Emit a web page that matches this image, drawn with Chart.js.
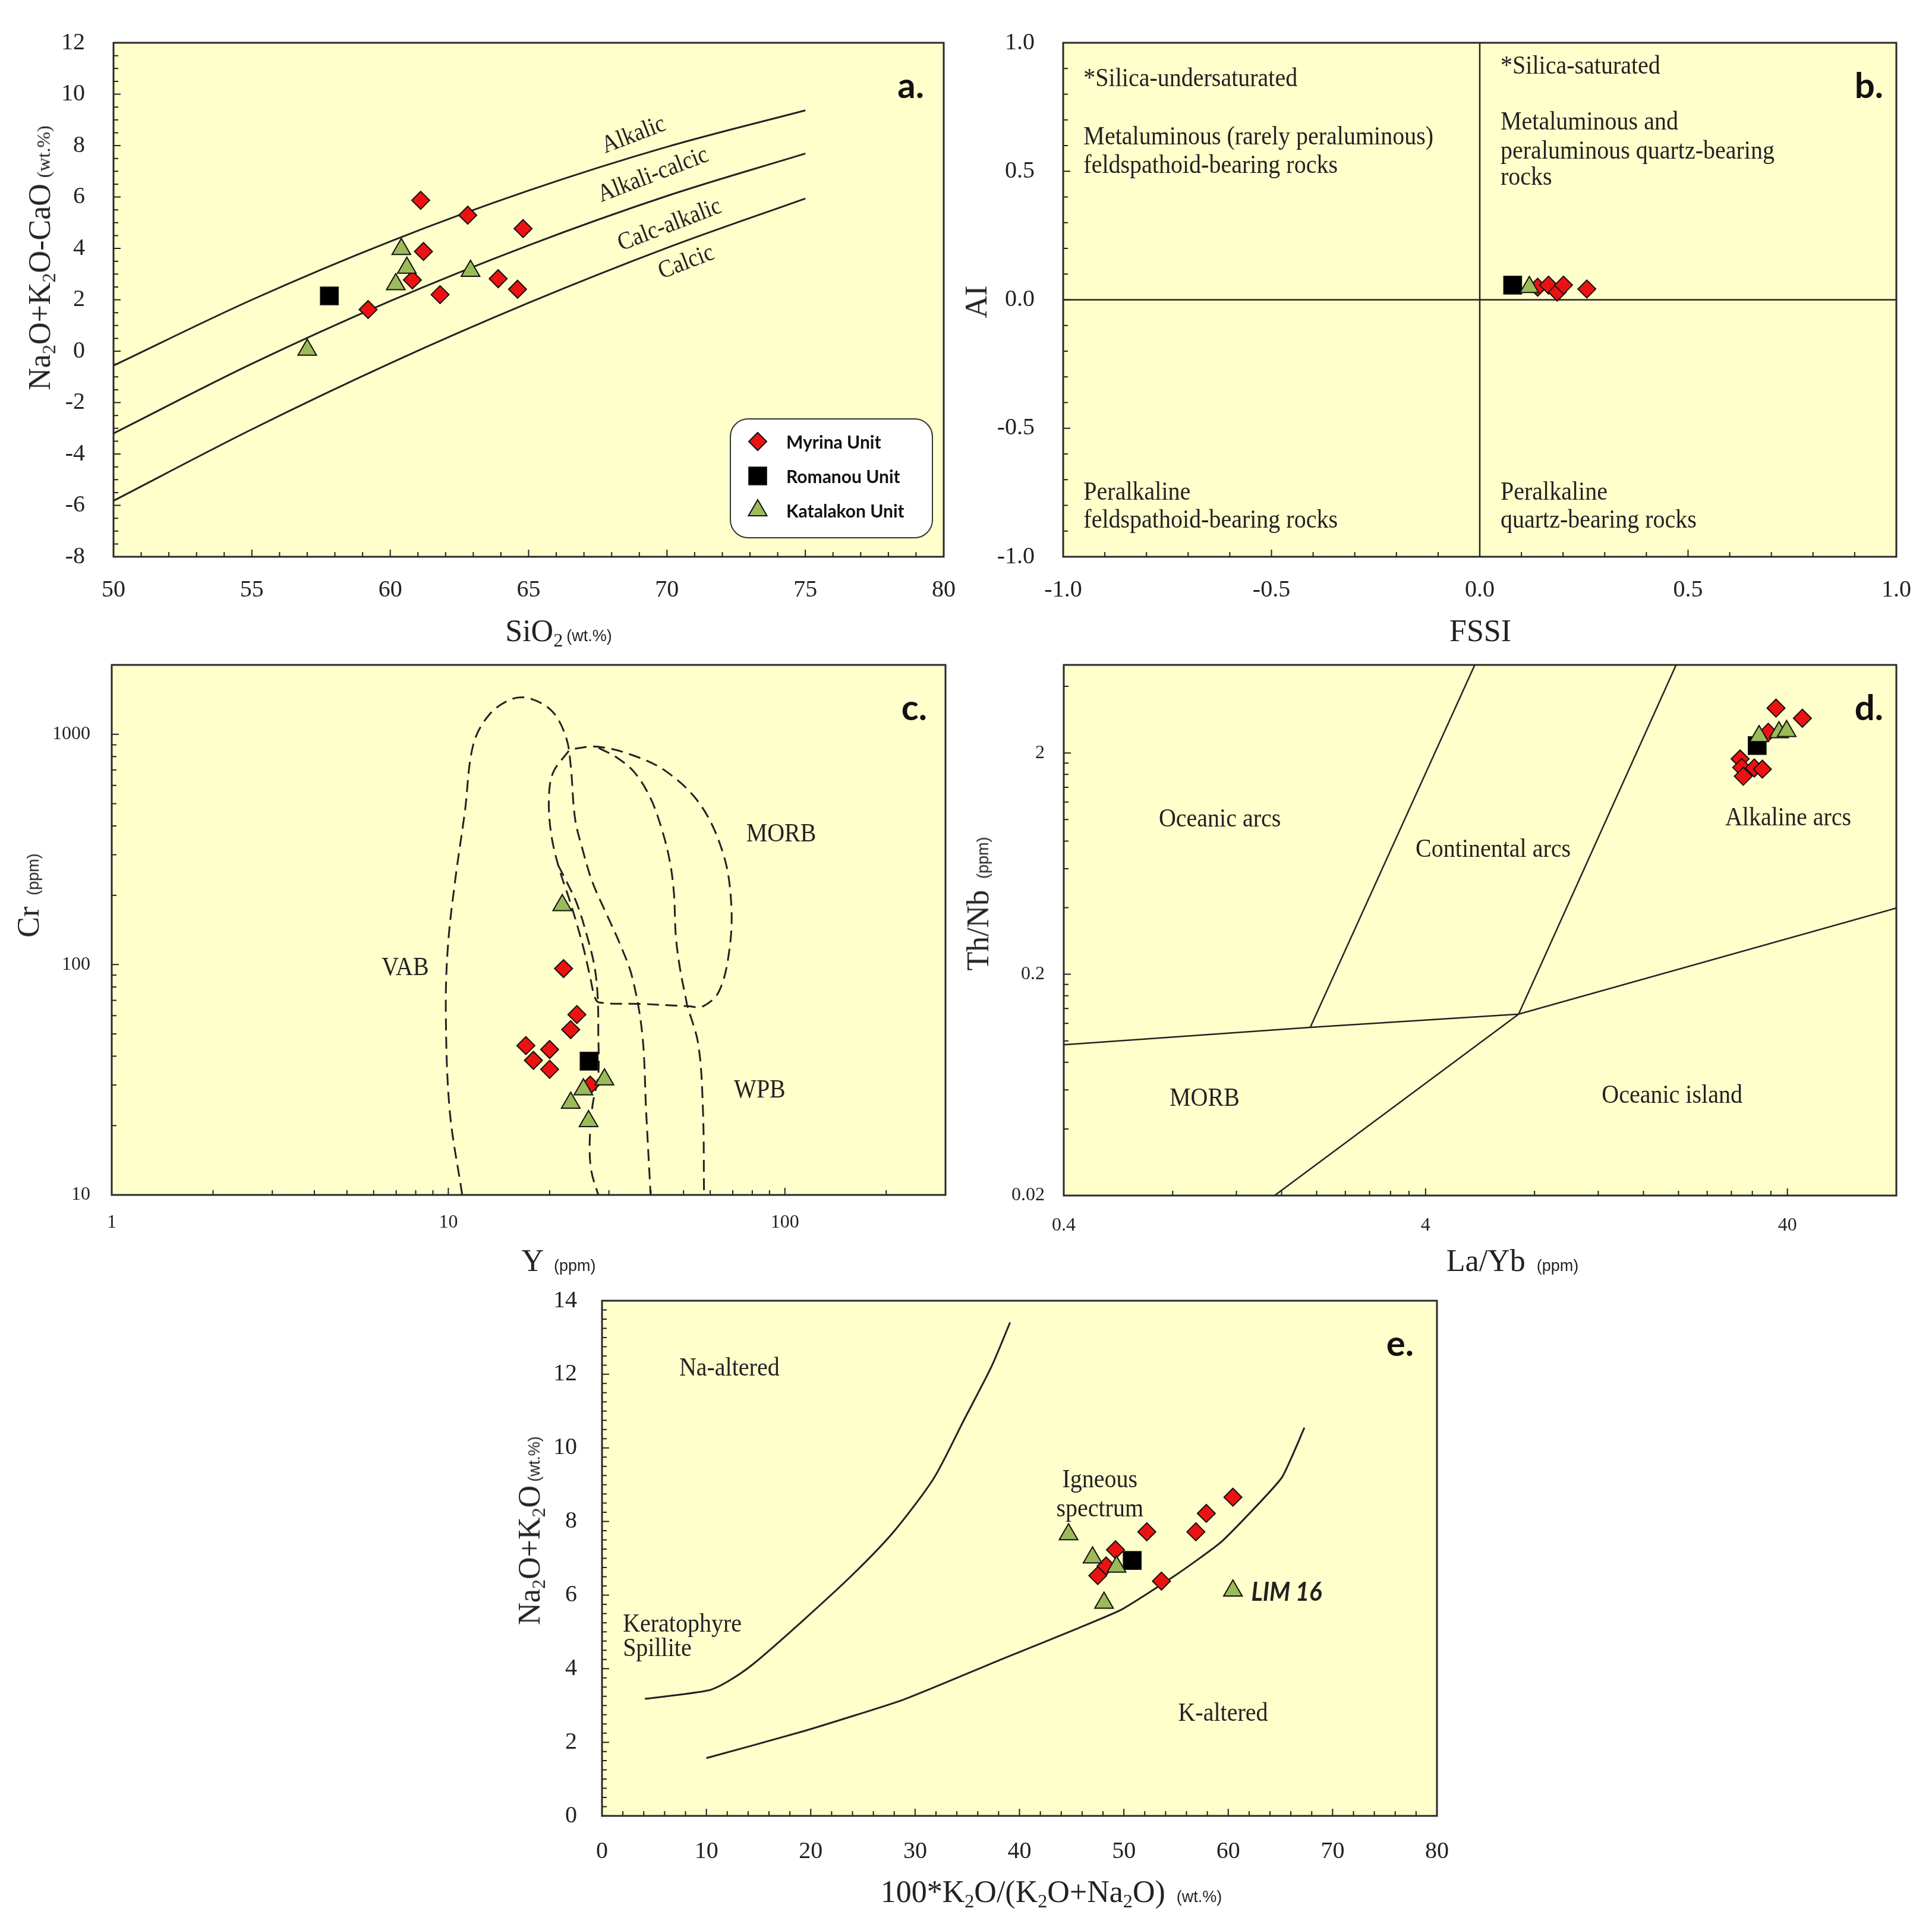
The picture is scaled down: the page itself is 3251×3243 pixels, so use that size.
<!DOCTYPE html>
<html>
<head>
<meta charset="UTF-8">
<title>Myrina, Romanou and Katalakon units - discrimination diagrams</title>
<script src="https://cdn.jsdelivr.net/npm/chart.js"></script>
<style>
  body { margin: 0; background: #ffffff; }
  #page { position: relative; width: 3251px; height: 3243px; overflow: hidden; background: #ffffff; }
  #page canvas { position: absolute; z-index: 1; }
  .ttl { position: absolute; z-index: 2; transform: translate(-50%, -50%); white-space: nowrap; line-height: 1;
         font-family: "Liberation Serif", serif; font-size: 52px; color: #222; }
  .ttl.rot { transform: translate(-50%, -50%) rotate(-90deg); }
  .ttl sub { font-size: 0.62em; vertical-align: -0.28em; line-height: 0; }
  .ttl small { font-family: "Liberation Sans", sans-serif; font-size: 27px; margin-left: 6px; }
  .ttl small.serif { font-family: "Liberation Serif", serif; font-size: 32px; margin-left: 10px; }
</style>
</head>
<body>
<div id="page">
  <!-- axis titles -->
  <div class="ttl" style="left:940px; top:1062px;">SiO<sub>2</sub><small>(wt.%)</small></div>
  <div class="ttl rot" style="left:67px; top:434px;">Na<sub>2</sub>O+K<sub>2</sub>O-CaO<small class="serif">(wt.%)</small></div>
  <div class="ttl" style="left:2491px; top:1062px;">FSSI</div>
  <div class="ttl rot" style="left:1643px; top:508px;">AI</div>
  <div class="ttl" style="left:940px; top:2122px;">Y <small>(ppm)</small></div>
  <div class="ttl rot" style="left:48px; top:1507px;">Cr <small>(ppm)</small></div>
  <div class="ttl" style="left:2545px; top:2122px;">La/Yb <small>(ppm)</small></div>
  <div class="ttl rot" style="left:1646px; top:1521px;">Th/Nb <small>(ppm)</small></div>
  <div class="ttl" style="left:1769px; top:3184px;">100*K<sub>2</sub>O/(K<sub>2</sub>O+Na<sub>2</sub>O) <small>(wt.%)</small></div>
  <div class="ttl rot" style="left:891px; top:2576px;">Na<sub>2</sub>O+K<sub>2</sub>O<small>(wt.%)</small></div>
</div>

<script>
// ---------------- a. Na2O+K2O-CaO vs SiO2
const aXTicks = [50, 55, 60, 65, 70, 75, 80];
const aYTicks = [-8, -6, -4, -2, 0, 2, 4, 6, 8, 10, 12];
const aSiMyrina = [61.1, 62.8, 64.8, 61.2, 60.8, 61.8, 63.9, 64.6, 59.2];
const aMaliMyrina = [5.87, 5.29, 4.77, 3.88, 2.77, 2.20, 2.82, 2.41, 1.62];
const aSiRomanou = [57.8];
const aMaliRomanou = [2.15];
const aSiKatalakon = [60.4, 60.6, 60.2, 62.9, 57.0];
const aMaliKatalakon = [3.97, 3.24, 2.60, 3.12, 0.05];
const aCurveSi = [50, 55, 60, 65, 70, 75];
const aAlkalicLine = [-0.56, 2.00, 4.27, 6.25, 7.95, 9.37];
const aAlkaliCalcicLine = [-3.20, -0.49, 1.95, 4.12, 6.04, 7.69];
const aCalcAlkalicLine = [-5.82, -3.04, -0.47, 1.88, 4.02, 5.94];

// ---------------- b. AI vs FSSI
const bTicks = [-1.0, -0.5, 0.0, 0.5, 1.0];
const bFssiMyrina = [0.139, 0.165, 0.186, 0.201, 0.257];
const bAiMyrina = [0.049, 0.057, 0.030, 0.057, 0.042];
const bFssiRomanou = [0.079];
const bAiRomanou = [0.057];
const bFssiKatalakon = [0.119];
const bAiKatalakon = [0.049];
const bZeroSpan = [-1, 1];
const bZero = [0, 0];

// ---------------- c. Cr vs Y (log-log)
const cXTicks = [1, 10, 100];
const cYTicks = [10, 100, 1000];
const cYMyrina = [22.0, 24.1, 23.1, 17.0, 20.0, 17.9, 20.0, 26.4];
const cCrMyrina = [96.1, 60.7, 52.2, 44.5, 42.8, 38.4, 35.1, 30.0];
const cYRomanou = [26.2];
const cCrRomanou = [38.1];
const cYKatalakon = [21.8, 29.1, 25.2, 23.1, 26.1];
const cCrKatalakon = [181, 31.7, 28.7, 25.1, 20.9];
const cVabY = [11.0, 10.1, 9.83, 9.98, 10.5, 11.2, 11.85, 13.2, 15.4, 17.5, 20.4, 22.4, 23.1, 23.8, 25.1, 26.8, 29.5, 32.5, 35.2, 37.7, 38.7, 39.9];
const cVabCr = [10, 23.1, 62.7, 122, 237, 461, 897, 1211, 1420, 1429, 1253, 965, 731, 430, 313, 228, 166, 121, 88, 49.8, 23.1, 10];
const cMorbY = [22.8, 20.5, 19.9, 20.2, 21.3, 23.1, 25.1, 26.4, 27.2, 28.0, 37.7, 51.4, 57.1, 63.7, 68.3, 69.3, 65.7, 56.2, 44.5, 35.2, 27.9, 23.7, 22.8];
const cMorbCr = [847, 684, 531, 371, 264, 184, 121, 88, 72.6, 68.5, 67.5, 66.0, 65.9, 76.5, 114, 182, 300, 493, 688, 812, 883, 865, 847];
const cWpbRightY = [27.96, 31.6, 35.7, 39.8, 43.1, 45.5, 46.8, 47.4, 48.7, 50.8, 51.2, 55.3, 57.1, 57.5];
const cWpbRightCr = [873, 794, 684, 531, 386, 281, 205, 134, 97.7, 71.1, 67, 45.0, 23.1, 10];
const cWpbLeftY = [21.2, 22.5, 24.1, 25.8, 27.2, 27.8, 27.9, 27.9, 26.8, 26.3, 26.6, 27.9];
const cWpbLeftCr = [270, 228, 184, 134, 97.7, 71.1, 49.8, 33.3, 24.3, 16.6, 12.7, 10];

// ---------------- d. Th/Nb vs La/Yb (log-log)
const dXTicks = [0.4, 4, 40];
const dYTicks = [0.02, 0.2, 2];
const dLaYbMyrina = [37.2, 44.0, 35.4, 29.6, 29.9, 30.2, 32.4, 34.1];
const dThNbMyrina = [3.19, 2.87, 2.48, 1.88, 1.72, 1.57, 1.71, 1.69];
const dLaYbRomanou = [33.0];
const dThNbRomanou = [2.16];
const dLaYbKatalakon = [33.4, 37.9, 39.8];
const dThNbKatalakon = [2.38, 2.48, 2.51];
const dBaseLaYb = [0.4, 1.92, 7.23, 80];
const dBaseThNb = [0.096, 0.115, 0.132, 0.398];
const dOceanicLaYb = [1.92, 5.47];
const dOceanicThNb = [0.115, 5];
const dContLaYb = [7.23, 19.7];
const dContThNb = [0.132, 5];
const dIslandLaYb = [1.53, 7.23];
const dIslandThNb = [0.02, 0.132];

// ---------------- e. Na2O+K2O vs 100*K2O/(K2O+Na2O)
const eXTicks = [0, 10, 20, 30, 40, 50, 60, 70, 80];
const eYTicks = [0, 2, 4, 6, 8, 10, 12, 14];
const eKMyrina = [60.45, 57.9, 56.9, 52.2, 49.2, 48.3, 47.5, 53.6];
const eAlkMyrina = [8.66, 8.22, 7.72, 7.72, 7.23, 6.79, 6.53, 6.38];
const eKRomanou = [50.8];
const eAlkRomanou = [6.94];
const eKKatalakon = [44.7, 47.0, 49.3, 48.1, 60.45];
const eAlkKatalakon = [7.65, 7.02, 6.77, 5.79, 6.12];
const eNaLineK = [4.1, 10.2, 12.15, 14.5, 19.3, 24.1, 28.0, 31.8, 34.7, 37.3, 39.1];
const eNaLineAlk = [3.18, 3.41, 3.67, 4.13, 5.32, 6.58, 7.74, 9.18, 10.77, 12.2, 13.41];
const eKLineK = [10.0, 19.3, 28.9, 38.5, 45.7, 49.8, 54.8, 59.35, 65.1, 67.3];
const eKLineAlk = [1.57, 2.30, 3.16, 4.28, 5.11, 5.61, 6.51, 7.45, 9.18, 10.55];

// ---------------- drawing
const SERIF = "'Liberation Serif', serif";
const INK = '#222222';
const PAPER = '#ffffcc';
Chart.defaults.font.family = SERIF;
const UNITS = ['Myrina Unit', 'Romanou Unit', 'Katalakon Unit'];
const MARK = {
  'Myrina Unit':    { pointStyle: 'rectRot',  radius: 15, fill: '#ee1111', order: 3 },
  'Romanou Unit':   { pointStyle: 'rect',     radius: 21, fill: '#000000', order: 2 },
  'Katalakon Unit': { pointStyle: 'triangle', radius: 18, fill: '#9bbb59', order: 1 }
};

// plot rectangles of each panel on the page
const PANELS = {
  a: { L: 191,  T: 72,   W: 1397, H: 865 },
  b: { L: 1789, T: 72,   W: 1402, H: 865 },
  c: { L: 188,  T: 1119, W: 1403, H: 892 },
  d: { L: 1790, T: 1119, W: 1401, H: 893 },
  e: { L: 1013, T: 2189, W: 1405, H: 867 }
};
// canvas margins round the plot area (big enough for the label overflow padding)
const ML = 140, MT = 80, MR = 100, MB = 110;

function pts(xs, ys) { return xs.map((x, i) => ({ x: x, y: ys[i] })); }

function unit(name, xs, ys) {
  const m = MARK[name];
  return {
    label: name, data: pts(xs, ys), showLine: false,
    pointStyle: m.pointStyle, pointRadius: m.radius, pointHoverRadius: m.radius,
    backgroundColor: m.fill, borderColor: '#111', borderWidth: 2, order: m.order
  };
}

function boundary(xs, ys, extra) {
  return Object.assign({
    data: pts(xs, ys), showLine: true, pointRadius: 0, pointHoverRadius: 0,
    borderColor: INK, borderWidth: 3, backgroundColor: 'transparent', fill: false, order: 9
  }, extra || {});
}

function steps(from, to, step) {
  const out = [];
  for (let v = from; v <= to + 1e-9; v += step) out.push(+v.toFixed(6));
  return out;
}
function logSteps(bases, max) {
  const out = [];
  bases.forEach(b => { for (let k = 1; k <= 9; k++) { const v = +(b * k).toPrecision(6); if (v <= max * 1.0001) out.push(v); } });
  return out;
}

function axis(type, min, max, ticks, fmt, size, pad, fit) {
  return {
    type: type, min: min, max: max,
    grid: { display: false },
    border: { display: false },
    afterBuildTicks: s => { s.ticks = ticks.map(v => ({ value: v })); },
    afterFit: s => { if (s.isHorizontal()) s.height = fit; else s.width = fit; },
    ticks: { callback: fmt, font: { family: SERIF, size: size }, color: INK, padding: pad, maxRotation: 0, autoSkip: false }
  };
}

function drawMarker(ctx, name, x, y) {
  const m = MARK[name];
  ctx.fillStyle = m.fill; ctx.strokeStyle = '#111'; ctx.lineWidth = 2;
  Chart.helpers.drawPoint(ctx, { pointStyle: m.pointStyle, radius: m.radius, rotation: 0, borderWidth: 2 }, x, y);
}

function decor(cfg) {
  const isMajor = (v, list) => list.some(m => Math.abs(m - v) < 1e-9);
  return {
    id: 'decor',
    beforeDatasetsDraw(chart) {
      const { ctx, chartArea: a } = chart;
      ctx.save();
      ctx.fillStyle = PAPER;
      ctx.fillRect(a.left, a.top, a.width, a.height);
      ctx.restore();
    },
    afterDatasetsDraw(chart) {
      const { ctx, chartArea: a, scales } = chart;
      ctx.save();
      // inward tick marks on bottom and left
      ctx.strokeStyle = INK; ctx.lineWidth = 2;
      ctx.beginPath();
      cfg.xMinor.forEach(v => {
        const px = scales.x.getPixelForValue(v), len = isMajor(v, cfg.xMajor) ? 12 : 8;
        ctx.moveTo(px, a.bottom); ctx.lineTo(px, a.bottom - len);
      });
      cfg.yMinor.forEach(v => {
        const py = scales.y.getPixelForValue(v), len = isMajor(v, cfg.yMajor) ? 12 : 8;
        ctx.moveTo(a.left, py); ctx.lineTo(a.left + len, py);
      });
      ctx.stroke();
      // frame
      ctx.lineWidth = 3; ctx.strokeStyle = '#2a2a2a';
      ctx.strokeRect(a.left, a.top, a.width, a.height);
      // field labels
      (cfg.notes || []).forEach(n => {
        ctx.save();
        ctx.font = n.font || ('40px ' + SERIF);
        ctx.fillStyle = INK;
        ctx.textAlign = n.align || 'center';
        ctx.textBaseline = 'middle';
        ctx.translate(scales.x.getPixelForValue(n.x), scales.y.getPixelForValue(n.y));
        if (n.rot) ctx.rotate(n.rot * Math.PI / 180);
        ctx.scale(1, 1.1);
        ctx.fillText(n.text, 0, 0);
        ctx.restore();
      });
      // panel letter
      ctx.font = "bold 60px Lato, 'Open Sans', sans-serif";
      ctx.fillStyle = '#111'; ctx.textAlign = 'right'; ctx.textBaseline = 'alphabetic';
      ctx.fillText(cfg.letter, a.right - cfg.inset, a.top + 93);
      // legend
      if (cfg.legend) {
        const bx = a.right - 359, by = a.bottom - 232, bw = 340, bh = 200;
        ctx.beginPath();
        ctx.roundRect(bx, by, bw, bh, 30);
        ctx.fillStyle = '#ffffff'; ctx.fill();
        ctx.lineWidth = 2; ctx.strokeStyle = '#333'; ctx.stroke();
        UNITS.forEach((name, i) => {
          const ry = by + 38 + i * 58;
          drawMarker(ctx, name, bx + 46, ry);
          ctx.font = "bold 30px Lato, 'Open Sans', sans-serif";
          ctx.fillStyle = '#111'; ctx.textAlign = 'left'; ctx.textBaseline = 'middle';
          ctx.fillText(name, bx + 94, ry + 2);
        });
      }
      ctx.restore();
    }
  };
}

function build(key, xAxis, yAxis, datasets, deco) {
  const p = PANELS[key];
  const cv = document.createElement('canvas');
  cv.width = p.W + ML + MR; cv.height = p.H + MT + MB;
  cv.style.left = (p.L - ML) + 'px'; cv.style.top = (p.T - MT) + 'px';
  document.getElementById('page').appendChild(cv);
  return new Chart(cv.getContext('2d'), {
    type: 'scatter',
    data: { datasets: datasets },
    options: {
      responsive: false, animation: false, events: [],
      layout: { padding: { left: 0, top: MT, right: MR, bottom: 0 } },
      scales: { x: xAxis, y: yAxis },
      plugins: { legend: { display: false }, tooltip: { enabled: false } }
    },
    plugins: [decor(deco)]
  });
}

const str = v => String(v);

// a.
build('a',
  axis('linear', 50, 80, aXTicks, str, 40, 24, MB),
  axis('linear', -8, 12, aYTicks, str, 40, 40, ML),
  [
    unit('Katalakon Unit', aSiKatalakon, aMaliKatalakon),
    unit('Romanou Unit', aSiRomanou, aMaliRomanou),
    unit('Myrina Unit', aSiMyrina, aMaliMyrina),
    boundary(aCurveSi, aAlkalicLine, { cubicInterpolationMode: 'monotone' }),
    boundary(aCurveSi, aAlkaliCalcicLine, { cubicInterpolationMode: 'monotone' }),
    boundary(aCurveSi, aCalcAlkalicLine, { cubicInterpolationMode: 'monotone' })
  ],
  {
    letter: 'a.', inset: 33, legend: true,
    xMajor: aXTicks, xMinor: steps(50, 80, 1),
    yMajor: aYTicks, yMinor: steps(-8, 12, 0.5),
    notes: [
      { text: 'Alkalic', x: 68.8, y: 8.4, rot: -21, font: '38px ' + SERIF },
      { text: 'Alkali-calcic', x: 69.5, y: 6.85, rot: -21, font: '38px ' + SERIF },
      { text: 'Calc-alkalic', x: 70.1, y: 4.9, rot: -21, font: '38px ' + SERIF },
      { text: 'Calcic', x: 70.7, y: 3.45, rot: -21, font: '38px ' + SERIF }
    ]
  });

// b.
build('b',
  axis('linear', -1, 1, bTicks, v => v.toFixed(1), 40, 24, MB),
  axis('linear', -1, 1, bTicks, v => v.toFixed(1), 40, 40, ML),
  [
    unit('Katalakon Unit', bFssiKatalakon, bAiKatalakon),
    unit('Romanou Unit', bFssiRomanou, bAiRomanou),
    unit('Myrina Unit', bFssiMyrina, bAiMyrina),
    boundary(bZero, bZeroSpan, { borderWidth: 2.5 }),
    boundary(bZeroSpan, bZero, { borderWidth: 2.5 })
  ],
  {
    letter: 'b.', inset: 22,
    xMajor: bTicks, xMinor: steps(-1, 1, 0.1),
    yMajor: bTicks, yMinor: steps(-1, 1, 0.1),
    notes: [
      { text: '*Silica-undersaturated', x: -0.951, y: 0.857, align: 'left' },
      { text: 'Metaluminous (rarely peraluminous)', x: -0.951, y: 0.632, align: 'left' },
      { text: 'feldspathoid-bearing rocks', x: -0.951, y: 0.521, align: 'left' },
      { text: '*Silica-saturated', x: 0.05, y: 0.907, align: 'left' },
      { text: 'Metaluminous and', x: 0.05, y: 0.688, align: 'left' },
      { text: 'peraluminous quartz-bearing', x: 0.05, y: 0.575, align: 'left' },
      { text: 'rocks', x: 0.05, y: 0.473, align: 'left' },
      { text: 'Peralkaline', x: -0.951, y: -0.752, align: 'left' },
      { text: 'feldspathoid-bearing rocks', x: -0.951, y: -0.861, align: 'left' },
      { text: 'Peralkaline', x: 0.05, y: -0.752, align: 'left' },
      { text: 'quartz-bearing rocks', x: 0.05, y: -0.861, align: 'left' }
    ]
  });

// c.
const dash = { borderDash: [20, 11], tension: 0.35, borderWidth: 3 };
build('c',
  axis('logarithmic', 1, 300, cXTicks, str, 32, 19, MB),
  axis('logarithmic', 10, 2000, cYTicks, str, 32, 28, ML),
  [
    unit('Katalakon Unit', cYKatalakon, cCrKatalakon),
    unit('Romanou Unit', cYRomanou, cCrRomanou),
    unit('Myrina Unit', cYMyrina, cCrMyrina),
    boundary(cVabY, cVabCr, dash),
    boundary(cMorbY, cMorbCr, dash),
    boundary(cWpbRightY, cWpbRightCr, dash),
    boundary(cWpbLeftY, cWpbLeftCr, dash)
  ],
  {
    letter: 'c.', inset: 31,
    xMajor: cXTicks, xMinor: logSteps([1, 10, 100], 300),
    yMajor: cYTicks, yMinor: logSteps([10, 100, 1000], 2000),
    notes: [
      { text: 'VAB', x: 7.45, y: 96.4 },
      { text: 'MORB', x: 97.5, y: 366 },
      { text: 'WPB', x: 84.2, y: 28.3 }
    ]
  });

// d.
build('d',
  axis('logarithmic', 0.4, 80, dXTicks, str, 32, 23, MB),
  axis('logarithmic', 0.02, 5, dYTicks, str, 32, 24, ML),
  [
    unit('Katalakon Unit', dLaYbKatalakon, dThNbKatalakon),
    unit('Romanou Unit', dLaYbRomanou, dThNbRomanou),
    unit('Myrina Unit', dLaYbMyrina, dThNbMyrina),
    boundary(dBaseLaYb, dBaseThNb, { borderWidth: 2.5 }),
    boundary(dOceanicLaYb, dOceanicThNb, { borderWidth: 2.5 }),
    boundary(dContLaYb, dContThNb, { borderWidth: 2.5 }),
    boundary(dIslandLaYb, dIslandThNb, { borderWidth: 2.5 })
  ],
  {
    letter: 'd.', inset: 22,
    xMajor: dXTicks, xMinor: logSteps([0.4, 4, 40], 80),
    yMajor: dYTicks, yMinor: logSteps([0.02, 0.2, 2], 5),
    notes: [
      { text: 'Oceanic arcs', x: 1.08, y: 1.0 },
      { text: 'Continental arcs', x: 6.15, y: 0.73 },
      { text: 'Alkaline arcs', x: 40.2, y: 1.01 },
      { text: 'MORB', x: 0.98, y: 0.0548 },
      { text: 'Oceanic island', x: 19.2, y: 0.0562 }
    ]
  });

// e.
build('e',
  axis('linear', 0, 80, eXTicks, str, 40, 28, MB),
  axis('linear', 0, 14, eYTicks, str, 40, 34, ML),
  [
    unit('Katalakon Unit', eKKatalakon, eAlkKatalakon),
    unit('Romanou Unit', eKRomanou, eAlkRomanou),
    unit('Myrina Unit', eKMyrina, eAlkMyrina),
    boundary(eNaLineK, eNaLineAlk, { tension: 0.25 }),
    boundary(eKLineK, eKLineAlk, { tension: 0.15 })
  ],
  {
    letter: 'e.', inset: 39,
    xMajor: eXTicks, xMinor: steps(0, 80, 2),
    yMajor: eYTicks, yMinor: steps(0, 14, 0.25),
    notes: [
      { text: 'Na-altered', x: 12.2, y: 12.15 },
      { text: 'Igneous', x: 47.7, y: 9.11 },
      { text: 'spectrum', x: 47.7, y: 8.33 },
      { text: 'Keratophyre', x: 2.0, y: 5.19, align: 'left' },
      { text: 'Spillite', x: 2.0, y: 4.53, align: 'left' },
      { text: 'K-altered', x: 59.5, y: 2.77 },
      { text: 'LIM 16', x: 62.2, y: 6.08, align: 'left', font: "italic bold 40px Lato, 'Open Sans', sans-serif" }
    ]
  });
</script>
</body>
</html>
